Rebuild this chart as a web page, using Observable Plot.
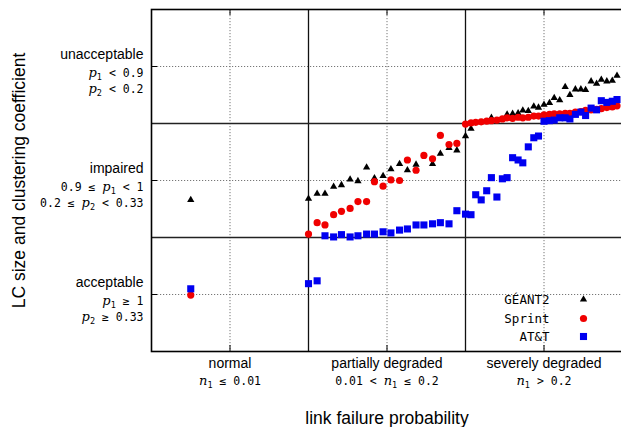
<!DOCTYPE html>
<html><head><meta charset="utf-8">
<script src="https://cdn.jsdelivr.net/npm/d3@7"></script>
<script src="https://cdn.jsdelivr.net/npm/@observablehq/plot@0.6"></script>
<style>html,body{margin:0;padding:0;background:#fff} svg{display:block}</style>
</head><body><div id="chart"></div>
<script>
// ---- categories / tick labels ----
const categories = ["normal", "partially degraded", "severely degraded"];
const categoryRanges = ["n_1 ≤ 0.01", "0.01 < n_1 ≤ 0.2", "n_1 > 0.2"];
const categoryTicks = [1, 3, 5];
const categoryBounds = [2, 4];
const levels = ["acceptable", "impaired", "unacceptable"];
const levelP1 = ["p_1 ≥ 1", "0.9 ≤ p_1 < 1", "p_1 < 0.9"];
const levelP2 = ["p_2 ≥ 0.33", "0.2 ≤ p_2 < 0.33", "p_2 < 0.2"];
const levelTicks = [1, 3, 5];
const levelBounds = [2, 4];
const xTitle = "link failure probability";
const yTitle = "LC size and clustering coefficient";
const seriesNames = ["GÉANT2", "Sprint", "AT&T"];

// ---- series values (positions in category units) ----
const geantX = [0.5,
  2.00, 2.11, 2.21, 2.32, 2.42, 2.53, 2.63, 2.74, 2.84, 2.95, 3.05, 3.16, 3.26, 3.37, 3.58, 3.68, 3.79, 3.89, 4.00,
  4.07, 4.33, 4.53, 4.60, 4.67, 4.73, 4.80, 4.87, 4.93, 5.00, 5.07, 5.13, 5.20, 5.27, 5.33, 5.40, 5.47, 5.53, 5.60, 5.67, 5.73, 5.80, 5.87, 5.93];
const geantY = [2.66,
  2.68, 2.77, 2.77, 2.89, 2.92, 3.02, 2.99, 3.23, 3.04, 3.08, 3.20, 3.29, 3.18, 3.28, 3.29, 3.47, 3.57, 3.53, 3.78,
  3.91, 4.10, 4.16, 4.17, 4.18, 4.23, 4.22, 4.30, 4.28, 4.33, 4.36, 4.45, 4.41, 4.64, 4.50, 4.60, 4.60, 4.59, 4.74, 4.70, 4.77, 4.74, 4.75, 4.84];

const sprintX = [0.5,
  2.00, 2.11, 2.21, 2.32, 2.42, 2.53, 2.63, 2.74, 2.84, 2.95, 3.05, 3.16, 3.26, 3.37, 3.47, 3.58, 3.68, 3.79, 3.89, 4.00,
  4.07, 4.13, 4.20, 4.27, 4.33, 4.40, 4.47, 4.53, 4.60, 4.67, 4.73, 4.80, 4.87, 4.93, 5.00, 5.07, 5.13, 5.20, 5.27, 5.33, 5.40, 5.47, 5.53, 5.60, 5.67, 5.73, 5.80, 5.87, 5.93];
const sprintY = [0.99,
  2.06, 2.26, 2.22, 2.40, 2.46, 2.51, 2.63, 2.63, 2.98, 2.90, 3.01, 3.00, 3.36, 3.18, 3.44, 3.38, 3.79, 3.63, 3.65, 3.99,
  4.01, 4.02, 4.03, 4.04, 4.05, 4.06, 4.08, 4.10, 4.09, 4.11, 4.10, 4.11, 4.13, 4.13, 4.15, 4.16, 4.17, 4.17, 4.18, 4.18, 4.20, 4.21, 4.23, 4.24, 4.25, 4.26, 4.28, 4.29, 4.31];

const attX = [0.5,
  2.00, 2.11, 2.21, 2.32, 2.42, 2.53, 2.63, 2.74, 2.84, 2.95, 3.05, 3.16, 3.26, 3.37, 3.47, 3.58, 3.68, 3.79, 3.89, 4.00,
  4.07, 4.13, 4.20, 4.27, 4.33, 4.40, 4.47, 4.53, 4.60, 4.67, 4.73, 4.80, 4.87, 4.93, 5.00, 5.07, 5.13, 5.20, 5.27, 5.33, 5.40, 5.47, 5.53, 5.60, 5.67, 5.73, 5.80, 5.87, 5.93];
const attY = [1.10,
  1.19, 1.24, 2.03, 2.01, 2.05, 2.01, 2.03, 2.06, 2.06, 2.10, 2.08, 2.13, 2.15, 2.22, 2.22, 2.24, 2.26, 2.24, 2.47, 2.41,
  2.40, 2.75, 2.66, 2.82, 3.05, 2.71, 3.03, 3.05, 3.40, 3.36, 3.31, 3.59, 3.75, 3.78, 4.04, 4.05, 4.06, 4.10, 4.10, 4.08, 4.16, 4.20, 4.14, 4.27, 4.24, 4.40, 4.37, 4.39, 4.42];

// ---- layout / style ----
const W = 621, H = 427;
const mL = 151, mT = 9, mB = 76, mR = -1;
const frameH = H - mT - mB;
const frameW = W - mL - mR;
const sans = "Liberation Sans, Arial, Helvetica, sans-serif";
const mono = "DejaVu Sans Mono, monospace";

const series = [
  {name: seriesNames[0], x: geantX, y: geantY, symbol: "triangle", color: "#000000", r: 2.7, ldy: -52},
  {name: seriesNames[1], x: sprintX, y: sprintY, symbol: "circle", color: "#f00000", r: 3.6, ldy: -33},
  {name: seriesNames[2], x: attX, y: attY, symbol: "square", color: "#0000f0", r: 4.0, ldy: -15}
];
const rows = s => s.x.map((x, i) => ({x, y: s.y[i]}));
const txt = {fill: "#000", lineAnchor: "middle"};

const marks = [
  Plot.ruleX(categoryTicks, {stroke: "#777", strokeWidth: 1, strokeDasharray: "1.2,1.8"}),
  Plot.ruleY(levelTicks, {stroke: "#777", strokeWidth: 1, strokeDasharray: "1.2,1.8"}),
  Plot.ruleX(categoryTicks, {stroke: "#000", strokeWidth: 1, insetTop: frameH - 6}),
  Plot.ruleX(categoryTicks, {stroke: "#000", strokeWidth: 1, insetBottom: frameH - 6}),
  Plot.ruleY(levelTicks, {stroke: "#000", strokeWidth: 1, insetRight: frameW - 6}),
  Plot.ruleX(categoryBounds, {stroke: "#111", strokeWidth: 1.3}),
  Plot.ruleY(levelBounds, {stroke: "#222", strokeWidth: 1.5}),
  Plot.frame({stroke: "#000", strokeWidth: 1.6}),
  ...series.map(s => Plot.dot(rows(s), {x: "x", y: "y", symbol: s.symbol, r: s.r, fill: s.color, stroke: "none"})),
  // legend
  ...series.flatMap(s => [
    Plot.text([s.name], {...txt, x: null, y: null, frameAnchor: "bottom-right", dx: -73, dy: s.ldy, textAnchor: "end", fontFamily: mono, fontSize: 12.5}),
    Plot.dot([s.name], {x: null, y: null, frameAnchor: "bottom-right", dx: -39, dy: s.ldy, symbol: s.symbol, r: s.r, fill: s.color, stroke: "none"})
  ]),
  // y tick labels
  Plot.text(levels, {...txt, y: levelTicks, frameAnchor: "left", textAnchor: "end", dx: -8, dy: -11.5, fontFamily: sans, fontSize: 14}),
  Plot.text(levelP1, {...txt, y: levelTicks, frameAnchor: "left", textAnchor: "end", dx: -8, dy: 6.5, fontFamily: mono, fontSize: 11.5}),
  Plot.text(levelP2, {...txt, y: levelTicks, frameAnchor: "left", textAnchor: "end", dx: -8, dy: 23, fontFamily: mono, fontSize: 11.5}),
  // x tick labels
  Plot.text(categories, {...txt, x: categoryTicks, frameAnchor: "bottom", textAnchor: "middle", dy: 12, fontFamily: sans, fontSize: 14}),
  Plot.text(categoryRanges, {...txt, x: categoryTicks, frameAnchor: "bottom", textAnchor: "middle", dy: 29.5, fontFamily: mono, fontSize: 11.5}),
  // axis titles
  Plot.text([xTitle], {...txt, x: null, y: null, frameAnchor: "bottom", textAnchor: "middle", dy: 67, fontFamily: sans, fontSize: 17.5}),
  Plot.text([yTitle], {...txt, x: null, y: null, frameAnchor: "left", textAnchor: "middle", dx: -132.5, rotate: -90, fontFamily: sans, fontSize: 17.5})
];

const chart = Plot.plot({
  width: W, height: H,
  marginLeft: mL, marginRight: mR, marginTop: mT, marginBottom: mB,
  x: {domain: [0, 6], axis: null},
  y: {domain: [0, 6], axis: null},
  style: {background: "#fff", overflow: "hidden"},
  marks
});

// render "p_1" style tokens as italic letter + subscript
d3.select(chart).selectAll("text").each(function () {
  const s = this.textContent;
  if (!/[pn]_\d/.test(s)) return;
  const t = d3.select(this);
  t.text(null);
  const parts = s.split(/([pn])_(\d)/);
  let reset = false;
  for (let i = 0; i < parts.length; i += 3) {
    if (parts[i]) {
      const sp = t.append("tspan").text(parts[i]);
      if (reset) { sp.attr("dy", -3); reset = false; }
    }
    if (i + 1 < parts.length) {
      const it = t.append("tspan").attr("font-family", "DejaVu Serif").attr("font-style", "italic").attr("font-size", 13).text(parts[i + 1]);
      if (reset) { it.attr("dy", -3); }
      t.append("tspan").attr("font-size", 8.5).attr("dy", 3).text(parts[i + 2]);
      reset = true;
    }
  }
  t.style("white-space", "pre");
});

document.getElementById("chart").appendChild(chart);
</script>
</body></html>
